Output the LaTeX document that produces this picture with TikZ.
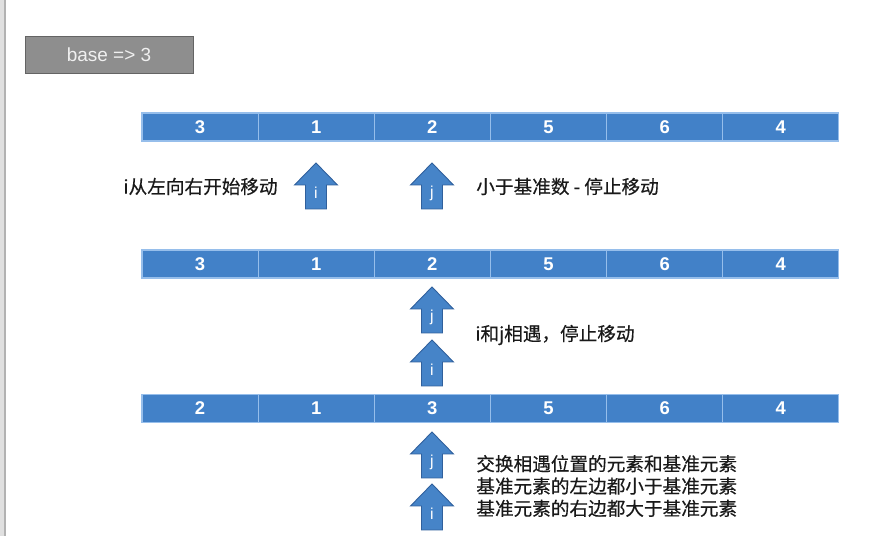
\documentclass[tikz,border=0pt]{standalone}
\usepackage{fontspec}
\setmainfont{Liberation Sans}
\newfontfamily\cjk[FakeBold=0.4]{Noto Sans CJK SC}
\usepackage{xcolor}
\usetikzlibrary{positioning, calc}
\definecolor{cellblue}{RGB}{66,129,200}
\definecolor{cellline}{RGB}{150,190,235}
\definecolor{arrowblue}{RGB}{70,132,200}
\definecolor{arrowedge}{RGB}{48,96,156}
\definecolor{basegray}{RGB}{142,142,142}
\definecolor{baseedge}{RGB}{100,100,100}
\tikzset{
  cell/.style={fill=cellblue, draw=cellline, line width=0.6pt, minimum width=2.323cm, minimum height=0.56cm, inner sep=0pt, text=white, font=\fontsize{10.5}{11}\selectfont\bfseries},
  basebox/.style={fill=basegray, draw=baseedge, line width=0.5pt, minimum width=3.36cm, minimum height=0.74cm, inner sep=0pt, text=white!94!black, font=\fontsize{10.8}{11}\selectfont},
  ptr/.style={fill=arrowblue, draw=arrowedge, line width=0.5pt},
  ptrlabel/.style={text=white, inner sep=0pt, font=\fontsize{9}{10}\selectfont},
  note/.style={anchor=west, inner sep=0pt, font=\cjk\fontsize{10.6}{12.7}\selectfont, text=black!90},
}
% up arrow: bottom centre, name, label
\newcommand{\uparr}[3]{%
  \draw[ptr] (#1) ++(-0.21,0) -- ++(0,0.48) -- ++(-0.22,0) -- ++(0.43,0.44)
    -- ++(0.43,-0.44) -- ++(-0.22,0) -- ++(0,-0.48) -- cycle;
  \node[ptrlabel] (#2) at ($(#1)+(0,0.32)$) {#3};
}

\begin{document}
\begin{tikzpicture}
  \useasboundingbox (0,0) rectangle (17.58,10.72);
  % left margin bar
  \fill[black!12] (0,0) rectangle (0.12,10.72);
  \draw[black!30, line width=0.6pt] (0.1,0) -- (0.1,10.72);

  \node[basebox] (base) at (2.18,9.63) {base => 3};

  % the three rows
  \foreach \row/\y/\vals in {a/8.18/{3,1,2,5,6,4}, b/5.44/{3,1,2,5,6,4}, c/2.55/{2,1,3,5,6,4}} {
    \foreach \v [count=\k] in \vals {
      \node[cell] (\row\k) at ({2.84+2.323*(\k-0.5)},\y) {\v};
    }
  }

  % row a
  \coordinate (ia) at (6.32,6.54);
  \coordinate (ja) at (8.64,6.54);
  \uparr{ia}{ilabA}{i}
  \uparr{ja}{jlabA}{j}
  \node[note, anchor=east] (moveI) at (5.56,6.99) {i从左向右开始移动};
  \node[note] (stopJ) at (9.52,6.99) {小于基准数 - 停止移动};

  % row b
  \coordinate (jb) at (8.64,4.06);
  \coordinate (ib) at (8.64,3.0);
  \uparr{jb}{jlabB}{j}
  \uparr{ib}{ilabB}{i}
  \node[note] (meet) at (9.5,4.02) {i和j相遇，停止移动};

  % row c
  \coordinate (jc) at (8.64,1.16);
  \coordinate (ic) at (8.64,0.12);
  \uparr{jc}{jlabC}{j}
  \uparr{ic}{ilabC}{i}
  \node[note, align=left] (swap) at (9.52,1.0) {交换相遇位置的元素和基准元素\\基准元素的左边都小于基准元素\\基准元素的右边都大于基准元素};
\end{tikzpicture}
\end{document}
